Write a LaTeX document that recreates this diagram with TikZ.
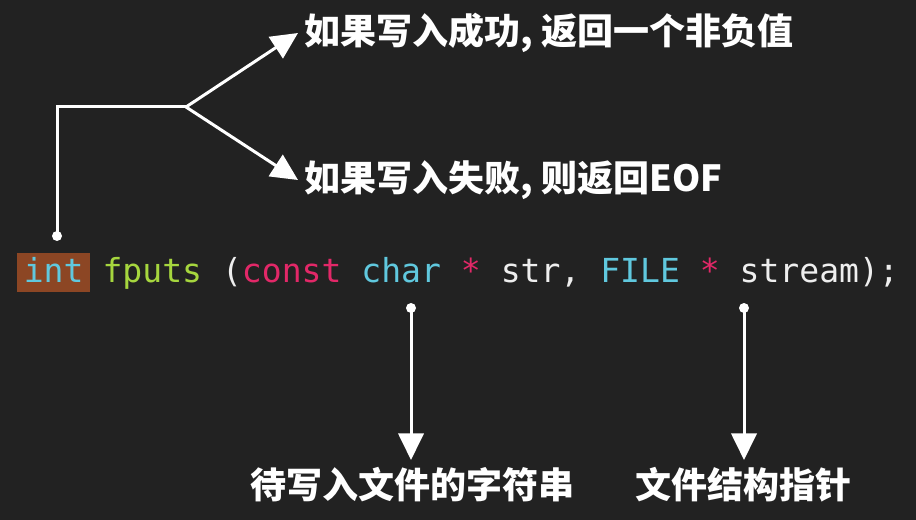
\documentclass[tikz,border=0pt]{standalone}
\usepackage{fontspec}
\usepackage{xcolor}
\usepackage{tikz}
\usetikzlibrary{arrows.meta,calc,positioning}
\newfontfamily\cjkfont{Noto Sans CJK SC}
\newfontfamily\codefont{DejaVu Sans Mono}
\definecolor{screenbg}{RGB}{34,34,34}
\definecolor{typecyan}{RGB}{96,200,222}
\definecolor{funcgreen}{RGB}{166,214,62}
\definecolor{keypink}{RGB}{226,40,104}
\definecolor{codewhite}{RGB}{238,238,238}
\definecolor{kwbrown}{RGB}{140,70,36}
\tikzset{
  code/.style={font=\codefont\fontsize{24.8pt}{30pt}\selectfont,
    text=codewhite,inner sep=0pt},
  kwbox/.style={code,fill=kwbrown,inner xsep=4.9pt,inner ysep=0pt,
    text height=21.75pt,text depth=7.5pt,text=typecyan},
  note/.style={font=\cjkfont\bfseries\fontsize{27pt}{32pt}\selectfont,
    text=white,inner sep=5pt},
  dot/.style={circle,fill=white,minimum size=7.5pt,inner sep=0pt},
  wire/.style={draw=white,line width=2.25pt,line join=miter},
  flow/.style={wire,-{Triangle[length=20pt,width=19pt]}}
}

\begin{document}
\begin{tikzpicture}[x=0.75pt,y=-0.75pt]
  \useasboundingbox[fill=screenbg] (0,0) rectangle (916,520);
  % the prototype line
  \node[kwbox,anchor=base west] (intkw) at (17,282) {int};
  \node[code,anchor=base west,xshift=9pt] (sig) at (intkw.base east)
    {\textcolor{funcgreen}{fputs} (\textcolor{keypink}{const}
    \textcolor{typecyan}{char} \textcolor{keypink}{*} str,
    \textcolor{typecyan}{FILE} \textcolor{keypink}{*} stream);};
  % return value
  \node[dot] (retdot) at (57,236) {};
  \coordinate (fork) at (186,107);
  \node[note,anchor=west] (okok) at (298,33) {如果写入成功, 返回一个非负值};
  \node[note,anchor=west] (okfail) at (298,180) {如果写入失败, 则返回EOF};
  \draw[wire] (retdot.center) |- (fork);
  \draw[flow] (fork) -- (okok.west);
  \draw[flow] (fork) -- (okfail.west);
  % the two arguments
  \node[dot] (strdot) at (411,308) {};
  \node[dot] (streamdot) at (744,308) {};
  \node[note,anchor=north] (strnote) at (412,460) {待写入文件的字符串};
  \node[note,anchor=north] (streamnote) at (743,460) {文件结构指针};
  \draw[flow] (strdot.center) -- (strdot.center |- strnote.north);
  \draw[flow] (streamdot.center) -- (streamdot.center |- streamnote.north);
\end{tikzpicture}
\end{document}
